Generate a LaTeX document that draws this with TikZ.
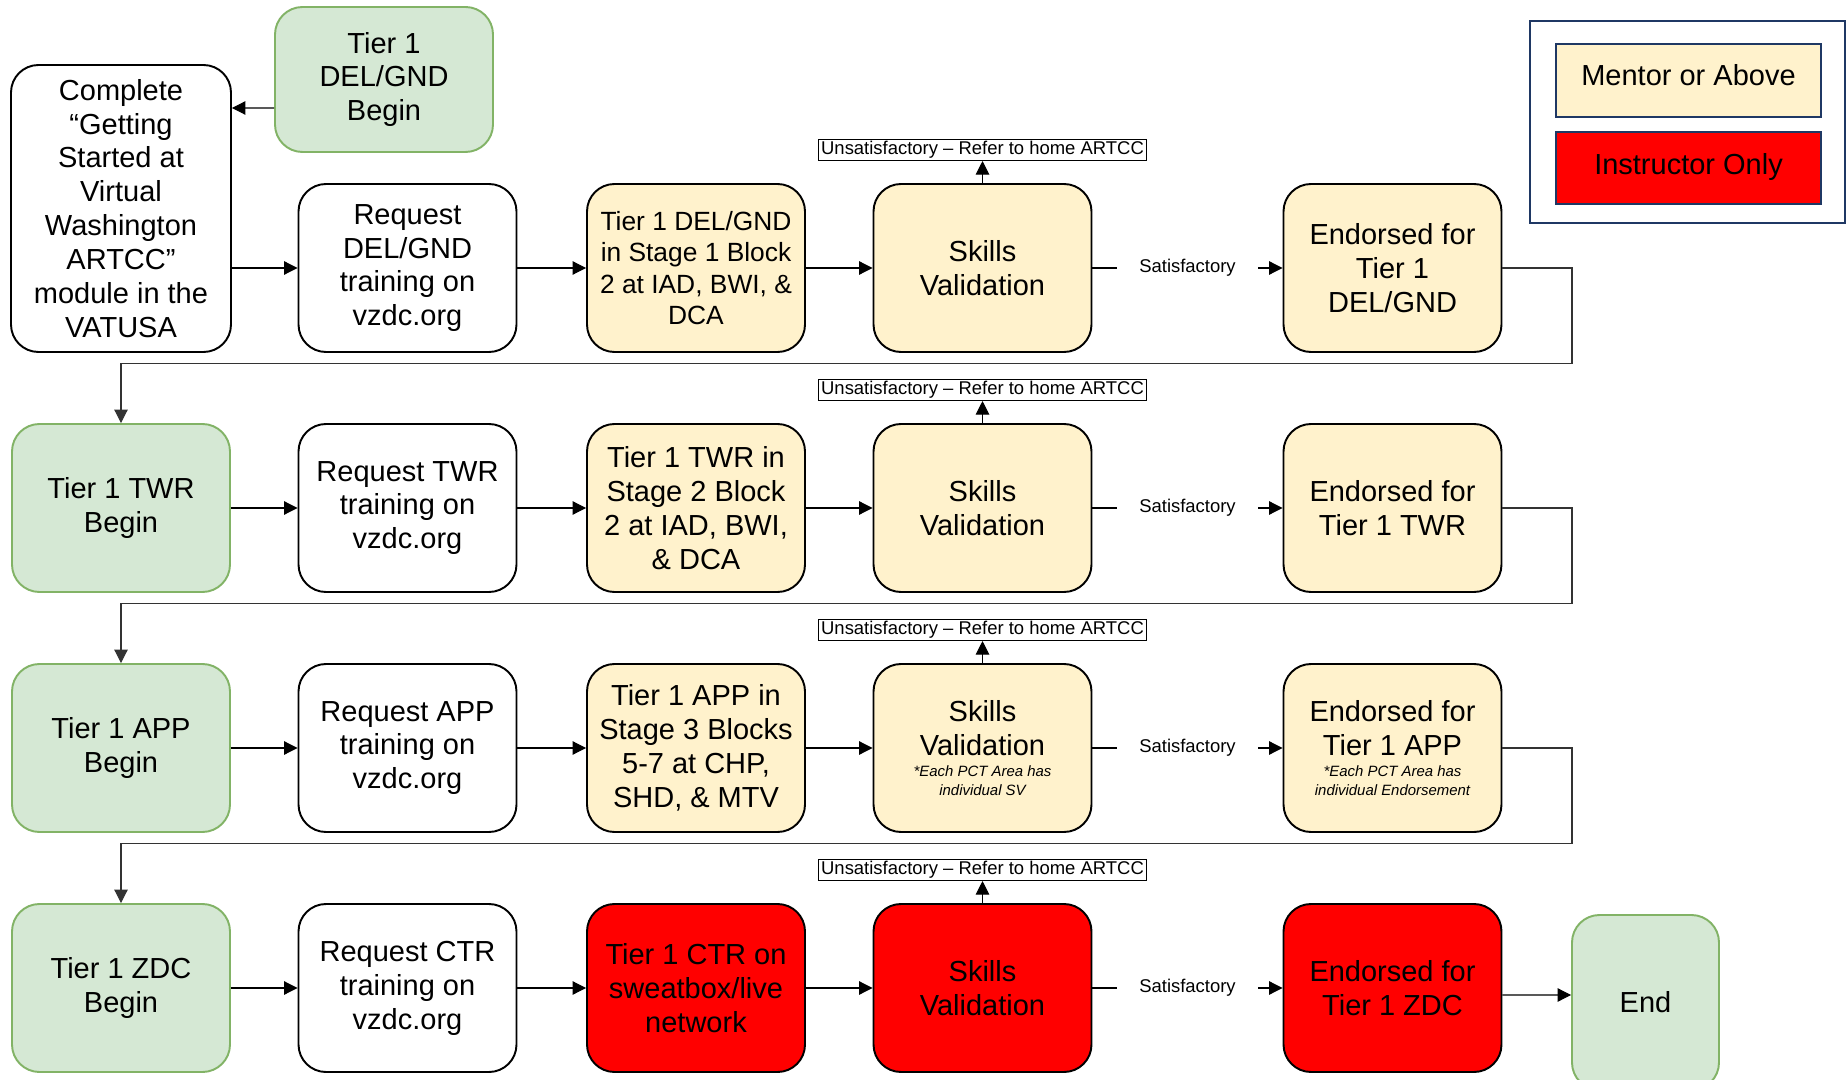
\documentclass[tikz,border=0pt]{standalone}
\usepackage{fontspec}
\setmainfont{Liberation Sans}
\usetikzlibrary{positioning,arrows.meta}

\definecolor{startgreen}{HTML}{D5E8D4}
\definecolor{startline}{HTML}{82B366}
\definecolor{mentoryellow}{HTML}{FFF2CC}
\definecolor{keynavy}{RGB}{31,56,100}

\newcommand\pctnote[1]{{\fontsize{8.5}{10}\selectfont\itshape #1}}

\def\colA{2.42}
\def\colB{8.15}
\def\colC{13.92}
\def\colD{19.65}
\def\colE{27.85}
\def\rowA{-5.36}
\def\rowB{-10.16}
\def\rowC{-14.96}
\def\rowD{-19.76}

\begin{document}
\begin{tikzpicture}[
    box/.style = {draw=black, line width=1.1pt, rounded corners=0.55cm,
      minimum width=4.36cm, minimum height=3.36cm, inner sep=2pt,
      align=center, font=\fontsize{16.5}{19.3}\selectfont},
    startbox/.style = {box, fill=startgreen, draw=startline},
    plainbox/.style = {box, fill=white},
    mentorbox/.style = {box, fill=mentoryellow},
    instrbox/.style = {box, fill=red},
    conn/.style = {line width=0.6pt, -{Triangle[length=0.27cm,width=0.27cm]}},
    loopback/.style = {conn, draw=black!80},
    unsat/.style = {draw, line width=0.6pt, inner xsep=1.5pt, inner ysep=1pt,
      font=\fontsize{10.5}{12}\selectfont},
    sat/.style = {fill=white, inner xsep=0.45cm, font=\fontsize{10.5}{12}\selectfont},
    keybox/.style = {draw=keynavy, line width=1.2pt, minimum width=5.3cm,
      minimum height=1.45cm, font=\fontsize{16.5}{19.3}\selectfont}
  ]
  \fill[white] (0,0) rectangle (36.94,-21.6);
  \useasboundingbox (0,0) rectangle (36.94,-21.6);

  % Legend
  \node[draw=keynavy, line width=1.6pt, minimum width=6.3cm, minimum height=4.04cm]
    (legend) at (33.75,-2.44) {};
  \node[keybox, fill=mentoryellow] (mentor) at (33.77,-1.61) {\raisebox{6pt}{Mentor or Above}};
  \node[keybox, fill=red] (instructor) at (33.77,-3.36) {\raisebox{4pt}{Instructor Only}};

  % Start
  \node[startbox, minimum height=2.9cm] (begin1) at (7.68,-1.59) {Tier 1\\DEL/GND\\Begin};
  \node[plainbox, minimum width=4.4cm, minimum height=5.74cm] (complete) at (\colA,-4.17)
    {Complete\\“Getting\\Started at\\Virtual\\Washington\\ARTCC”\\module in the\\VATUSA};

  % Row 1: DEL/GND
  \node[plainbox] (req1) at (\colB,\rowA) {Request\\DEL/GND\\training on\\vzdc.org};
  \node[mentorbox, font=\fontsize{15}{17.8}\selectfont] (stage1) at (\colC,\rowA)
    {Tier 1 DEL/GND\\in Stage 1 Block\\2 at IAD, BWI, \&\\DCA};
  \node[mentorbox] (sv1) at (\colD,\rowA) {Skills\\Validation};
  \node[mentorbox] (endorse1) at (\colE,\rowA) {Endorsed for\\Tier 1\\DEL/GND};

  % Row 2: TWR
  \node[startbox] (begin2) at (\colA,\rowB) {Tier 1 TWR\\Begin};
  \node[plainbox] (req2) at (\colB,\rowB) {Request TWR\\training on\\vzdc.org};
  \node[mentorbox] (stage2) at (\colC,\rowB) {Tier 1 TWR in\\Stage 2 Block\\2 at IAD, BWI,\\\& DCA};
  \node[mentorbox] (sv2) at (\colD,\rowB) {Skills\\Validation};
  \node[mentorbox] (endorse2) at (\colE,\rowB) {Endorsed for\\Tier 1 TWR};

  % Row 3: APP
  \node[startbox] (begin3) at (\colA,\rowC) {Tier 1 APP\\Begin};
  \node[plainbox] (req3) at (\colB,\rowC) {Request APP\\training on\\vzdc.org};
  \node[mentorbox] (stage3) at (\colC,\rowC) {Tier 1 APP in\\Stage 3 Blocks\\5-7 at CHP,\\SHD, \& MTV};
  \node[mentorbox] (sv3) at (\colD,\rowC)
    {Skills\\Validation\\[-7.4pt]\pctnote{*Each PCT Area has}\\[-8.5pt]\pctnote{individual SV}};
  \node[mentorbox] (endorse3) at (\colE,\rowC)
    {Endorsed for\\Tier 1 APP\\[-7.4pt]\pctnote{*Each PCT Area has}\\[-8.5pt]\pctnote{individual Endorsement}};

  % Row 4: ZDC
  \node[startbox] (begin4) at (\colA,\rowD) {Tier 1 ZDC\\Begin};
  \node[plainbox] (req4) at (\colB,\rowD) {Request CTR\\training on\\vzdc.org};
  \node[instrbox] (stage4) at (\colC,\rowD) {Tier 1 CTR on\\sweatbox/live\\network};
  \node[instrbox] (sv4) at (\colD,\rowD) {Skills\\Validation};
  \node[instrbox] (endorse4) at (\colE,\rowD) {Endorsed for\\Tier 1 ZDC};
  \node[startbox, minimum width=2.94cm, minimum height=3.5cm] (finish) at (32.91,-20.05) {End};

  % Connectors
  \draw[conn] ([yshift=-0.57cm]begin1.west) -- ([yshift=2.01cm]complete.east);
  \draw[conn] (complete.east |- req1.west) -- (req1.west);
  \foreach \r in {2,3,4}
    \draw[conn] (begin\r) -- (req\r);
  \foreach \r in {1,...,4} {
    \draw[conn] (req\r) -- (stage\r);
    \draw[conn] (stage\r) -- (sv\r);
    \node[unsat, above=0.44cm of sv\r] (unsat\r) {Unsatisfactory -- Refer to home ARTCC};
    \draw[conn] (sv\r) -- (unsat\r);
    \draw[conn] (sv\r) -- node[sat] {Satisfactory} (endorse\r);
  }
  \foreach \r/\n in {1/2,2/3,3/4}    % back to the next tier
    \draw[loopback] (endorse\r.east) -- ++(1.39,0) |- ([yshift=-0.22cm]endorse\r.south) -| (begin\n);
  \draw[conn] ([yshift=-0.14cm]endorse4.east) -- ([yshift=0.15cm]finish.west);
\end{tikzpicture}
\end{document}
